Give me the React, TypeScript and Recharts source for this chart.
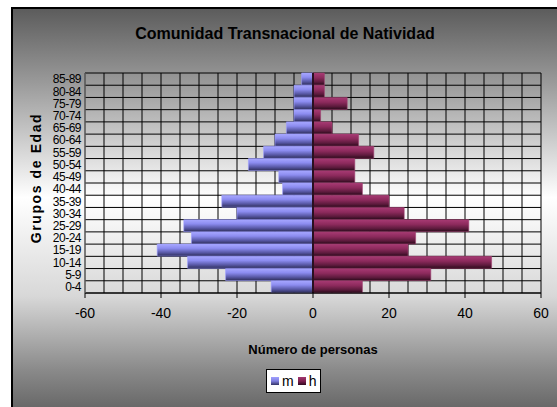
import { Bar, BarChart, CartesianGrid, Label, Legend, ReferenceLine, XAxis, YAxis } from "recharts";

const ages = ["0-4", "5-9", "10-14", "15-19", "20-24", "25-29", "30-34", "35-39", "40-44", "45-49", "50-54", "55-59", "60-64", "65-69", "70-74", "75-79", "80-84", "85-89"];
const mujeres = [-11, -23, -33, -41, -32, -34, -20, -24, -8, -9, -17, -13, -10, -7, -5, -5, -5, -3];
const hombres = [13, 31, 47, 25, 27, 41, 24, 20, 13, 11, 11, 16, 12, 5, 2, 9, 3, 3];
const xTicks = [-60, -40, -20, 0, 20, 40, 60];
const gridStep = [-60, -55, -50, -45, -40, -35, -30, -25, -20, -15, -10, -5, 0, 5, 10, 15, 20, 25, 30, 35, 40, 45, 50, 55, 60];
const legendOrder = ["m", "h"];

const data = ages.map((a, i) => ({ age: a, m: mujeres[i], h: hombres[i] }));

const FONT = "'Liberation Sans', Arial, sans-serif";

function LegendBox({ payload }: any) {
  const items = [...(payload || [])].sort((a: any, b: any) => legendOrder.indexOf(a.value) - legendOrder.indexOf(b.value));
  return (
    <div
      style={{
        background: "#fff",
        border: "1px solid #000",
        padding: "2px 4px",
        display: "flex",
        alignItems: "center",
        gap: 4,
        fontFamily: FONT,
        fontSize: 14,
        color: "#000",
        lineHeight: "18px",
      }}
    >
      {items.map((p: any) => (
        <span key={p.value} style={{ display: "flex", alignItems: "center", gap: 3 }}>
          <span
            style={{
              width: 8,
              height: 8,
              display: "inline-block",
              background: p.value === "m" ? "linear-gradient(#a0a0ff, #8080e0 50%, #333366)" : "linear-gradient(#a03870, #802050 50%, #300a20)",
            }}
          />
          {p.value}
        </span>
      ))}
    </div>
  );
}

export default function App() {
  return (
    <div style={{ position: "absolute", left: 0, top: 0, width: 557, height: 407, overflow: "hidden", fontFamily: FONT }}>
      <div
        style={{
          position: "absolute",
          left: 11,
          top: 7,
          width: 560,
          height: 410,
          borderTop: "2px solid #000",
          borderLeft: "2px solid #000",
          background: "linear-gradient(to bottom, #5c5c5c 0%, #9a9a9a 18%, #ffffff 46%, #d8d8d8 70%, #8a8a8a 88%, #5e5e5e 100%)",
        }}
      />
      <div
        style={{
          position: "absolute",
          left: 0,
          top: 25,
          width: 570,
          textAlign: "center",
          fontWeight: "bold",
          fontSize: 16,
          color: "#000",
        }}
      >
        Comunidad Transnacional de Natividad
      </div>
      <div style={{ position: "absolute", left: 0, top: 0 }}>
        <BarChart
          width={557}
          height={407}
          data={data}
          layout="vertical"
          stackOffset="sign"
          barCategoryGap={0}
          margin={{ top: 73, right: 16, bottom: 84, left: 0 }}
        >
          <defs>
            <linearGradient id="gm" x1="0" y1="0" x2="0" y2="1">
              <stop offset="0%" stopColor="#a8a8ff" />
              <stop offset="35%" stopColor="#8c8cf0" />
              <stop offset="70%" stopColor="#5a5aa8" />
              <stop offset="100%" stopColor="#2e2e5a" />
            </linearGradient>
            <linearGradient id="gh" x1="0" y1="0" x2="0" y2="1">
              <stop offset="0%" stopColor="#a83a74" />
              <stop offset="40%" stopColor="#8c2a5c" />
              <stop offset="75%" stopColor="#5c1a3c" />
              <stop offset="100%" stopColor="#2a0a1a" />
            </linearGradient>
          </defs>
          <CartesianGrid
            stroke="#000"
            strokeWidth={1}
            fill="none"
            horizontalCoordinatesGenerator={({ offset }: any) =>
              Array.from({ length: ages.length + 1 }, (_, i) => offset.top + (i * offset.height) / ages.length)
            }
            verticalCoordinatesGenerator={({ offset }: any) =>
              gridStep.map((v) => offset.left + ((v + 60) / 120) * offset.width)
            }
          />
          <XAxis
            type="number"
            domain={[-60, 60]}
            ticks={xTicks}
            interval={0}
            height={30}
            tickSize={5}
            tickMargin={10}
            stroke="#000"
            tick={{ fill: "#000", fontSize: 14, fontFamily: FONT }}
          >
            <Label
              value="Número de personas"
              position="bottom"
              offset={22}
              style={{ fontWeight: "bold", fontSize: 13, fill: "#000", fontFamily: FONT }}
            />
          </XAxis>
          <YAxis
            type="category"
            dataKey="age"
            reversed
            width={85}
            interval={0}
            tickLine={false}
            tickSize={2}
            tickMargin={2}
            stroke="#808080"
            tick={{ fill: "#000", fontSize: 12, fontFamily: FONT, letterSpacing: -0.5 }}
          >
            <Label
              content={({ viewBox }: any) => {
                const cy = viewBox.y + viewBox.height / 2 - 5;
                return (
                  <text
                    x={41}
                    y={cy}
                    transform={`rotate(-90, 41, ${cy})`}
                    textAnchor="middle"
                    style={{ fontWeight: "bold", fontSize: 14, fill: "#000", fontFamily: FONT, letterSpacing: 1.6 }}
                  >
                    Grupos de Edad
                  </text>
                );
              }}
            />
          </YAxis>
          <Bar dataKey="m" stackId="p" fill="url(#gm)" stroke="#9c9cff" strokeWidth={0.6} isAnimationActive={false} />
          <Bar dataKey="h" stackId="p" fill="url(#gh)" stroke="#a04070" strokeWidth={0.6} isAnimationActive={false} />
          <ReferenceLine x={0} stroke="#2a1020" strokeWidth={2} />
          <Legend
            layout="horizontal"
            verticalAlign="middle"
            align="center"
            content={<LegendBox />}
            wrapperStyle={{ top: 369, left: 266, width: "auto", height: "auto" }}
          />
        </BarChart>
      </div>
    </div>
  );
}
